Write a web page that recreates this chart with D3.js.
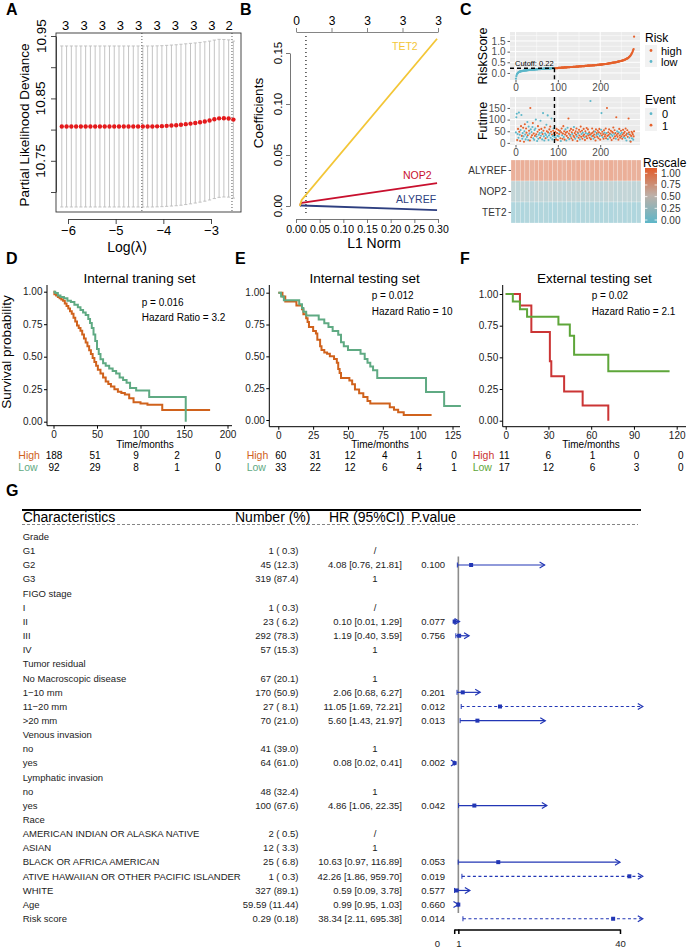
<!DOCTYPE html>
<html><head><meta charset="utf-8"><title>Figure</title>
<script src="https://cdn.jsdelivr.net/npm/d3@7/dist/d3.min.js"></script>
<style>
html,body{margin:0;padding:0;background:#fff;}
svg{display:block;font-family:"Liberation Sans",Arial,Helvetica,sans-serif;}
</style></head><body>
<svg id="fig" width="688" height="949" xmlns="http://www.w3.org/2000/svg"></svg>
<script>
// ===================== DATA =====================
// Panel A: LASSO cross-validation
const lassoLogLambda = [-6.13,-6.03,-5.93,-5.83,-5.73,-5.63,-5.53,-5.43,-5.33,-5.23,-5.13,-5.03,-4.93,-4.83,-4.73,-4.63,-4.53,-4.43,-4.33,-4.23,-4.13,-4.03,-3.93,-3.83,-3.73,-3.63,-3.53,-3.43,-3.33,-3.23,-3.13,-3.03,-2.93,-2.83,-2.73,-2.63,-2.53];
const lassoCvm = [10.805,10.805,10.805,10.805,10.805,10.805,10.805,10.805,10.805,10.805,10.805,10.805,10.805,10.805,10.805,10.805,10.805,10.805,10.805,10.805,10.8052,10.8055,10.806,10.8065,10.807,10.8078,10.8087,10.8096,10.8106,10.8117,10.813,10.8145,10.8165,10.818,10.8182,10.8178,10.816];
const lassoCvsd = [0.129,0.129,0.129,0.129,0.129,0.129,0.129,0.129,0.129,0.129,0.129,0.129,0.129,0.129,0.129,0.129,0.129,0.129,0.129,0.129,0.129,0.129,0.129,0.129,0.129,0.129,0.1288,0.1286,0.1283,0.128,0.1277,0.1273,0.127,0.1266,0.1262,0.126,0.1258];
const lassoTopLambda = [-6.05,-5.66,-5.28,-4.90,-4.52,-4.13,-3.75,-3.36,-2.98,-2.62];
const lassoTopNz = [3,3,3,3,3,3,3,3,3,2];
const lassoYTicks = [10.70,10.75,10.80,10.85,10.90,10.95];
const lassoYLabels = [10.75,10.85,10.95];
const lassoXTicks = [-6,-5,-4,-3];
const lambdaMin = -4.45, lambda1se = -2.56;

// Panel B: coefficient paths
const pathL1 = [0.008,0.012,0.298];
const pathTET2 = [0,0.006,0.164];
const pathNOP2 = [0.001,0.003,0.0225];
const pathALYREF = [0,0.0005,-0.004];
const pathGenes = ["TET2","NOP2","ALYREF"];
const coefXTicks = [0,0.05,0.10,0.15,0.20,0.25,0.30];
const coefYTicks = [0,0.05,0.10,0.15];
const coefTopAt = [0,0.075,0.15,0.225,0.30];
const coefTopNz = [0,3,3,3,3];
const coefSelectedL1 = 0.021;

// Panel C: risk score, survival time, heatmap
const riskLow = [-0.27,-0.15,-0.08,-0.04,-0.01,0.01,0.03,0.04,0.05,0.06,
0.07,0.07,0.08,0.08,0.09,0.09,0.10,0.10,0.10,0.11,
0.11,0.11,0.12,0.12,0.12,0.12,0.13,0.13,0.13,0.13,
0.14,0.14,0.14,0.14,0.14,0.15,0.15,0.15,0.15,0.15,
0.16,0.16,0.16,0.16,0.16,0.16,0.17,0.17,0.17,0.17,
0.17,0.17,0.18,0.18,0.18,0.18,0.18,0.18,0.18,0.19,
0.19,0.19,0.19,0.19,0.19,0.19,0.20,0.20,0.20,0.20,
0.20,0.20,0.20,0.20,0.21,0.21,0.21,0.21,0.21,0.21,
0.21,0.21,0.21,0.22,0.22,0.22,0.22,0.22,0.22,0.22,
0.22,0.22];
const riskHigh = [0.22,0.22,0.23,0.23,0.23,0.23,0.23,0.23,0.24,0.24,
0.24,0.24,0.24,0.24,0.24,0.25,0.25,0.25,0.25,0.25,
0.25,0.25,0.26,0.26,0.26,0.26,0.26,0.26,0.26,0.27,
0.27,0.27,0.27,0.27,0.27,0.27,0.28,0.28,0.28,0.28,
0.28,0.28,0.28,0.29,0.29,0.29,0.29,0.29,0.29,0.29,
0.30,0.30,0.30,0.30,0.30,0.30,0.30,0.31,0.31,0.31,
0.31,0.31,0.31,0.31,0.32,0.32,0.32,0.32,0.32,0.32,
0.32,0.33,0.33,0.33,0.33,0.33,0.33,0.34,0.34,0.34,
0.34,0.34,0.34,0.35,0.35,0.35,0.35,0.35,0.35,0.36,
0.36,0.36,0.36,0.36,0.36,0.37,0.37,0.37,0.37,0.37,
0.38,0.38,0.38,0.38,0.38,0.39,0.39,0.39,0.39,0.39,
0.40,0.40,0.40,0.40,0.41,0.41,0.41,0.41,0.42,0.42,
0.42,0.42,0.43,0.43,0.43,0.44,0.44,0.44,0.45,0.45,
0.45,0.46,0.46,0.46,0.47,0.47,0.47,0.48,0.48,0.48,
0.49,0.49,0.50,0.50,0.50,0.51,0.51,0.52,0.52,0.53,
0.53,0.54,0.54,0.55,0.55,0.56,0.56,0.57,0.57,0.58,
0.58,0.59,0.60,0.60,0.61,0.62,0.63,0.64,0.65,0.66,
0.67,0.68,0.69,0.70,0.72,0.74,0.76,0.78,0.80,0.83,
0.86,0.89,0.93,0.97,1.02,1.08,1.12,1.70];
const futimeLow = [45,110,125,12,38,60,22,130,48,35,
8,55,72,120,30,18,42,65,28,5,
50,80,36,15,62,44,25,90,33,12,
70,52,40,10,150,58,24,47,33,68,
85,20,40,13,55,30,62,100,37,27,
8,48,72,18,35,56,42,22,95,31,
60,45,15,38,128,52,28,10,66,40,
20,34,78,50,25,118,45,12,32,58,
40,70,22,48,105,36,15,30,52,62,
42,25];
const futimeHigh = [35,48,22,15,60,42,30,12,55,28,
38,48,52,20,8,45,62,33,18,40,
72,25,50,14,36,58,44,10,30,48,
65,22,105,40,16,52,34,28,60,20,
46,38,12,55,30,68,24,42,18,50,
35,62,28,8,45,40,22,56,32,15,
48,70,26,38,52,18,44,30,60,36,
24,12,50,42,28,64,20,38,58,32,
40,46,22,35,180,16,40,28,62,44,
30,18,50,36,24,48,10,58,34,42,
26,52,38,20,46,60,30,14,40,56,
128,32,48,24,38,18,54,44,28,36,
62,20,42,150,30,16,46,34,58,26,
40,22,52,36,12,48,30,44,66,20,
38,54,28,42,18,110,34,50,26,40,
14,46,60,32,22,38,52,28,44,18,
36,56,24,42,30,48,20,62,34,10,
40,54,26,38,105,46,22,36,8,5,
30,48,20,42,36,14,28,50];
const eventLow = [0,0,0,1,0,1,0,0,1,0,
1,0,1,0,1,0,0,1,0,1,
0,1,0,0,1,1,0,0,1,0,
0,1,0,1,1,0,1,0,1,0,
1,0,1,0,0,1,0,0,1,0,
0,1,1,0,0,1,0,1,0,0,
1,0,0,1,0,1,0,0,1,0,
1,0,0,1,0,0,1,0,0,1,
0,1,0,1,0,1,0,0,1,0,
1,0];
const eventHigh = [1,1,0,1,1,1,0,1,1,0,
1,0,1,1,0,1,1,0,1,1,
1,0,1,1,1,0,1,0,1,1,
0,1,1,1,0,1,1,0,1,1,
1,0,1,1,1,0,1,1,0,1,
1,1,0,1,1,0,1,1,1,0,
1,1,1,0,1,1,0,1,1,1,
0,1,1,0,1,1,1,0,1,1,
0,1,1,1,0,1,1,0,1,1,
1,0,1,1,1,0,1,1,0,1,
1,1,0,1,1,1,0,1,1,0,
0,1,1,0,1,1,1,0,1,1,
1,1,0,1,1,0,1,1,1,0,
1,1,1,0,1,1,0,1,1,1,
0,1,1,1,0,1,1,0,1,1,
1,0,1,1,1,0,1,1,0,1,
1,1,0,1,1,1,0,1,1,0,
1,1,1,0,1,1,0,1,0,1,
1,1,0,1,1,0,1,1];
const riskCutoff = 0.22;
const riskXTicks = [0,100,200];
const riskYTicks = [0,0.5,1.0,1.5];
const futimeYTicks = [0,50,100,150];
const heatGenes = ["ALYREF","NOP2","TET2"];
const heatALYREF = [0.88,0.86,0.90,0.87,0.85,0.89,0.88,0.86,0.91,0.87,0.88,0.85,0.89,0.87,0.90,0.86,0.88,0.87,0.89,0.85,0.88,0.90,0.86,0.87,0.89,0.88,0.86,0.87];
const heatNOP2 = [0.27,0.25,0.29,0.26,0.24,0.28,0.27,0.25,0.30,0.26,0.27,0.24,0.28,0.26,0.29,0.25,0.27,0.26,0.28,0.24,0.27,0.29,0.25,0.26,0.28,0.27,0.25,0.26];
const heatTET2 = [0.10,0.12,0.09,0.11,0.13,0.10,0.11,0.12,0.09,0.10,0.12,0.11,0.10,0.13,0.09,0.11,0.12,0.10,0.11,0.09,0.12,0.10,0.11,0.13,0.10,0.12,0.09,0.11];
const rescaleTicks = [0,0.25,0.5,0.75,1];

// Panels D-F: Kaplan-Meier
const kmDHighTime = [0,1,3,5,7,9,11,13,15,17,19,21,23,25,27,29,31,33,35,37,39,41,43,45,47,49,51,54,57,60,63,66,70,74,78,82,87,92,100,108,125,180];
const kmDHighSurv = [1.00,0.98,0.97,0.96,0.95,0.94,0.93,0.91,0.89,0.87,0.85,0.83,0.80,0.77,0.74,0.72,0.70,0.67,0.64,0.61,0.58,0.55,0.52,0.49,0.46,0.43,0.40,0.37,0.34,0.31,0.29,0.27,0.25,0.23,0.22,0.21,0.18,0.15,0.14,0.13,0.09,0.09];
const kmDLowTime = [0,2,5,8,12,16,20,24,28,31,34,37,40,42,44,46,48,50,52,54,57,60,64,68,72,76,80,84,88,95,110,152];
const kmDLowSurv = [1.00,0.99,0.97,0.96,0.95,0.93,0.92,0.90,0.88,0.86,0.84,0.82,0.79,0.76,0.72,0.67,0.62,0.56,0.52,0.48,0.45,0.43,0.41,0.39,0.37,0.34,0.32,0.30,0.26,0.24,0.19,0.00];
const kmEHighTime = [0,3,5,13,17,18,20,21,22,25,27,28,30,31,33,35,37,40,42,43,44,45,51,53,55,58,61,64,66,80,83,86,90,110];
const kmEHighSurv = [1.00,0.97,0.93,0.90,0.87,0.83,0.80,0.77,0.73,0.70,0.68,0.63,0.58,0.55,0.53,0.52,0.50,0.48,0.45,0.40,0.37,0.33,0.31,0.28,0.24,0.21,0.18,0.15,0.13,0.10,0.08,0.06,0.04,0.04];
const kmELowTime = [0,2,4,15,17,18,20,29,33,36,39,43,45,47,50,59,62,64,66,68,71,106,119,131];
const kmELowSurv = [1.00,0.97,0.94,0.91,0.88,0.85,0.82,0.79,0.76,0.73,0.70,0.67,0.61,0.58,0.55,0.52,0.48,0.45,0.42,0.39,0.33,0.22,0.11,0.11];
const kmFHighTime = [0,10,18,31,32,41,54,72];
const kmFHighSurv = [1.00,0.91,0.70,0.47,0.35,0.23,0.12,0.00];
const kmFLowTime = [0,5,10,15,37,45,48,72,115];
const kmFLowSurv = [1.00,0.94,0.88,0.82,0.76,0.67,0.52,0.39,0.39];
const kmTitles = ["Internal traning set","Internal testing set","External testing set"];
const kmPText = ["p = 0.016","p = 0.012","p = 0.02"];
const kmHRText = ["Hazard Ratio = 3.2","Hazard Ratio = 10","Hazard Ratio = 2.1"];
const kmDTicks = [0,50,100,150,200];
const kmETicks = [0,25,50,75,100,125];
const kmFTicks = [0,30,60,90,120];
const kmYTicks = [0,0.25,0.5,0.75,1];
const kmDRiskHigh = [188,51,9,2,0];
const kmDRiskLow = [92,29,8,1,0];
const kmERiskHigh = [60,31,12,4,1,0];
const kmERiskLow = [33,22,12,6,4,1];
const kmFRiskHigh = [11,6,1,0,0];
const kmFRiskLow = [17,12,6,3,0];

// Panel G: forest plot
const forestLabels = ["Grade","G1","G2","G3","FIGO stage","I","II","III","IV","Tumor residual","No Macroscopic disease","1\u221210 mm","11\u221220 mm",">20 mm","Venous invasion","no","yes","Lymphatic invasion","no","yes","Race","AMERICAN INDIAN OR ALASKA NATIVE","ASIAN","BLACK OR AFRICA AMERICAN","ATIVE HAWAIIAN OR OTHER PACIFIC ISLANDER","WHITE","Age","Risk score"];
const forestNumber = ["","1 ( 0.3)","45 (12.3)","319 (87.4)","","1 ( 0.3)","23 ( 6.2)","292 (78.3)","57 (15.3)","","67 (20.1)","170 (50.9)","27 ( 8.1)","70 (21.0)","","41 (39.0)","64 (61.0)","","48 (32.4)","100 (67.6)","","2 ( 0.5)","12 ( 3.3)","25 ( 6.8)","1 ( 0.3)","327 (89.1)","59.59 (11.44)","0.29 (0.18)"];
const forestHRText = ["","/","4.08 [0.76, 21.81]","1","","/","0.10 [0.01, 1.29]","1.19 [0.40, 3.59]","1","","1","2.06 [0.68, 6.27]","11.05 [1.69, 72.21]","5.60 [1.43, 21.97]","","1","0.08 [0.02, 0.41]","","1","4.86 [1.06, 22.35]","","/","1","10.63 [0.97, 116.89]","42.26 [1.86, 959.70]","0.59 [0.09, 3.78]","0.99 [0.95, 1.03]","38.34 [2.11, 695.38]"];
const forestP = ["","","0.100","","","","0.077","0.756","","","","0.201","0.012","0.013","","","0.002","","","0.042","","","","0.053","0.019","0.577","0.660","0.014"];
const forestEst = [null,null,4.08,null,null,null,0.10,1.19,null,null,null,2.06,11.05,5.60,null,null,0.08,null,null,4.86,null,null,null,10.63,42.26,0.59,0.99,38.34];
const forestLow = [null,null,0.76,null,null,null,0.01,0.40,null,null,null,0.68,1.69,1.43,null,null,0.02,null,null,1.06,null,null,null,0.97,1.86,0.09,0.95,2.11];
const forestHigh = [null,null,21.81,null,null,null,1.29,3.59,null,null,null,6.27,72.21,21.97,null,null,0.41,null,null,22.35,null,null,null,116.89,959.70,3.78,1.03,695.38];
const forestHeaders = ["Characteristics","Number (%)","HR (95%CI)","P.value"];
const forestTicks = [0,1,40];

// ===================== DRAWING =====================
const svg = d3.select("#fig");
svg.append("rect").attr("width",688).attr("height",949).attr("fill","#fff");

function T(g, x, y, s, o = {}) {
  const t = g.append("text").attr("x", x).attr("y", y).text(s)
    .attr("font-size", o.size || 10).attr("fill", o.fill || "#000")
    .attr("text-anchor", o.anchor || "start");
  if (o.weight) t.attr("font-weight", o.weight);
  if (o.rot != null) t.attr("transform", `rotate(${o.rot},${x},${y})`);
  return t;
}
function L(g, x1, y1, x2, y2, stroke, w, dash) {
  const l = g.append("line").attr("x1",x1).attr("y1",y1).attr("x2",x2).attr("y2",y2)
    .attr("stroke",stroke).attr("stroke-width",w||1);
  if (dash) l.attr("stroke-dasharray",dash);
  return l;
}
function styleAxis(sel, o = {}) {
  sel.attr("font-family", null).attr("font-size", null);
  sel.selectAll("text").attr("font-size", o.size || 10).attr("fill", o.color || "#000");
  sel.selectAll("line").attr("stroke", o.line || "#000").attr("stroke-width", o.width || 1);
  sel.selectAll("path.domain").attr("stroke", o.line || "#000").attr("stroke-width", o.width || 1);
  if (o.noDomain) sel.select("path.domain").remove();
}

// Panel letters
[["A",6,15],["B",240,15],["C",460,15],["D",6,264],["E",235,264],["F",460,264],["G",6,496]]
  .forEach(([s,x,y]) => T(svg, x, y, s, {size:16, weight:"bold"}));

// ---------- Panel A ----------
{
  const g = svg.append("g");
  const xA = d3.scaleLinear().domain([-6,-3]).range([68,211]);
  const yA = d3.scaleLinear().domain([10.70,10.95]).range([192,36]);
  const box = {x0:56, x1:241, y0:33, y1:212};
  lassoLogLambda.forEach((l,i) => {
    const x = xA(l), yu = yA(lassoCvm[i] + lassoCvsd[i]), yl = yA(lassoCvm[i] - lassoCvsd[i]);
    L(g, x, yu, x, yl, "#bdbdbd", 0.9);
    L(g, x-1.6, yu, x+1.6, yu, "#bdbdbd", 0.9);
    L(g, x-1.6, yl, x+1.6, yl, "#bdbdbd", 0.9);
  });
  [lambdaMin, lambda1se].forEach(l => L(g, xA(l), box.y0, xA(l), box.y1, "#444", 0.9, "1,2"));
  g.selectAll("circle.dev").data(lassoLogLambda).join("circle").attr("class","dev")
    .attr("cx", d => xA(d)).attr("cy", (d,i) => yA(lassoCvm[i])).attr("r", 2.2).attr("fill", "#E41A1C");
  g.append("rect").attr("x",box.x0).attr("y",box.y0).attr("width",box.x1-box.x0).attr("height",box.y1-box.y0)
    .attr("fill","none").attr("stroke","#333").attr("stroke-width",0.9);
  const ax = g.append("g").attr("transform","translate(0,219)")
    .call(d3.axisBottom(xA).tickValues(lassoXTicks).tickFormat(d3.format("d")).tickSize(5).tickSizeOuter(0).tickPadding(1.5));
  styleAxis(ax, {size:13, line:"#333", width:0.9});
  const ay = g.append("g").attr("transform",`translate(${box.x0},0)`)
    .call(d3.axisLeft(yA).tickValues(lassoYTicks).tickSize(5).tickSizeOuter(0).tickFormat(""));
  styleAxis(ay, {line:"#333", width:0.9});
  lassoYLabels.forEach(v => T(g, 45.5, yA(v), d3.format(".2f")(v), {size:13.5, anchor:"middle", rot:-90}));
  T(g, 29, 125, "Partial Likelihood Deviance", {size:13.5, anchor:"middle", rot:-90});
  T(g, 127, 251.5, "Log(\u03BB)", {size:14, anchor:"middle"});
  lassoTopLambda.forEach((l,i) => T(g, xA(l), 30, lassoTopNz[i], {size:13, anchor:"middle"}));
}

// ---------- Panel B ----------
{
  const g = svg.append("g");
  const xB = d3.scaleLinear().domain([0,0.30]).range([296,438]);
  const yB = d3.scaleLinear().domain([0,0.15]).range([206,53]);
  L(g, xB(coefSelectedL1), 36, xB(coefSelectedL1), 215, "#222", 1.3, "1,3");
  const cols = {TET2:"#F3C637", NOP2:"#C8102E", ALYREF:"#2E3F80"};
  const series = {TET2:pathTET2, NOP2:pathNOP2, ALYREF:pathALYREF};
  const line = d3.line().x((d,i) => xB(pathL1[i])).y(d => yB(d));
  ["ALYREF","NOP2","TET2"].forEach(gn => {
    g.append("path").attr("d", line(series[gn])).attr("fill","none").attr("stroke",cols[gn]).attr("stroke-width",1.8);
  });
  T(g, 392, 50, "TET2", {size:10.5, fill:cols.TET2});
  T(g, 403, 179, "NOP2", {size:10.5, fill:cols.NOP2});
  T(g, 396, 203, "ALYREF", {size:10.5, fill:cols.ALYREF});
  const ax = g.append("g").attr("transform","translate(0,219)")
    .call(d3.axisBottom(xB).tickValues(coefXTicks).tickFormat(d3.format(".2f")).tickSize(4).tickSizeOuter(0).tickPadding(2.5));
  styleAxis(ax, {size:10.5, line:"#666", width:0.9});
  const ay = g.append("g").attr("transform","translate(290,0)")
    .call(d3.axisLeft(yB).tickValues(coefYTicks).tickFormat("").tickSize(4).tickSizeOuter(0));
  styleAxis(ay, {line:"#666", width:0.9});
  coefYTicks.forEach(v => T(g, 282, yB(v), d3.format(".2f")(v), {size:11.5, anchor:"middle", rot:-90}));
  const at = g.append("g").attr("transform","translate(0,32)")
    .call(d3.axisTop(xB).tickValues(coefTopAt).tickFormat((d,i) => coefTopNz[i]).tickSize(4).tickSizeOuter(0).tickPadding(3));
  styleAxis(at, {size:12, line:"#777", width:0.9});
  T(g, 263, 113, "Coefficients", {size:13.5, anchor:"middle", rot:-90});
  T(g, 374, 248, "L1 Norm", {size:14, anchor:"middle"});
}

// ---------- Panel C ----------
const colHigh = "#E5622D", colLow = "#5DB7C9";
{
  const g = svg.append("g");
  const riskScore = riskLow.concat(riskHigh);
  const futime = futimeLow.concat(futimeHigh);
  const events = eventLow.concat(eventHigh);
  const xC = d3.scaleLinear().domain([-13, 294]).range([510, 640]);
  const yR = d3.scaleLinear().domain([-0.33, 1.92]).range([80, 32]);
  const yF = d3.scaleLinear().domain([-9, 197]).range([145, 97]);

  function ggPanel(x0, x1, y0, y1, ys, yTicks, yFmt, xMinor, yMinor) {
    g.append("rect").attr("x",x0).attr("y",y0).attr("width",x1-x0).attr("height",y1-y0).attr("fill","#EBEBEB");
    xMinor.forEach(v => { const x = xC(v); if (x > x0 && x < x1) L(g, x, y0, x, y1, "#fff", 0.5); });
    yMinor.forEach(v => { const y = ys(v); if (y > y0 && y < y1) L(g, x0, y, x1, y, "#fff", 0.5); });
    riskXTicks.forEach(v => L(g, xC(v), y0, xC(v), y1, "#fff", 1));
    yTicks.forEach(v => L(g, x0, ys(v), x1, ys(v), "#fff", 1));
    const axb = g.append("g").attr("transform",`translate(0,${y1})`)
      .call(d3.axisBottom(xC).tickValues(riskXTicks).tickSize(2.5).tickPadding(1.5).tickSizeOuter(0));
    styleAxis(axb, {size:10, color:"#4D4D4D", line:"#333", width:0.8, noDomain:true});
    const axl = g.append("g").attr("transform",`translate(${x0},0)`)
      .call(d3.axisLeft(ys).tickValues(yTicks).tickFormat(yFmt).tickSize(2.5).tickPadding(2).tickSizeOuter(0));
    styleAxis(axl, {size:10, color:"#4D4D4D", line:"#333", width:0.8, noDomain:true});
  }
  // Risk score panel
  ggPanel(510, 640, 32, 80, yR, riskYTicks, d3.format(".1f"), [50,150,250], [0.25,0.75,1.25,1.75]);
  g.selectAll("circle.rs").data(riskScore).join("circle").attr("class","rs")
    .attr("cx",(d,i) => xC(i+1)).attr("cy", d => yR(d)).attr("r",1.1)
    .attr("fill",(d,i) => i < riskLow.length ? colLow : colHigh);
  const xCut = xC(riskLow.length);
  L(g, 510, yR(riskCutoff), xCut, yR(riskCutoff), "#000", 1.4, "4,3");
  L(g, xCut, yR(riskCutoff), xCut, 80, "#000", 1.4, "4,3");
  T(g, 515, 65.5, "Cutoff: " + riskCutoff, {size:7.5});
  T(g, 486.5, 56, "RiskScore", {size:12.5, anchor:"middle", rot:-90});
  // legend Risk
  T(g, 645, 42, "Risk", {size:12});
  [["high",colHigh],["low",colLow]].forEach(([s,c],i) => {
    g.append("rect").attr("x",645).attr("y",45+i*11).attr("width",12).attr("height",11).attr("fill","#F2F2F2");
    g.append("circle").attr("cx",651).attr("cy",50.5+i*11).attr("r",1.4).attr("fill",c);
    T(g, 661, 54.5+i*11, s, {size:11});
  });

  // Futime panel
  ggPanel(510, 640, 97, 145, yF, futimeYTicks, d3.format("d"), [50,150,250], [25,75,125,175]);
  g.selectAll("circle.ft").data(futime).join("circle").attr("class","ft")
    .attr("cx",(d,i) => xC(i+1)).attr("cy", d => yF(d)).attr("r",1.05)
    .attr("fill",(d,i) => events[i] === 1 ? colHigh : colLow);
  L(g, xCut, 97, xCut, 145, "#000", 1.4, "4,3");
  T(g, 486.5, 121, "Futime", {size:12.5, anchor:"middle", rot:-90});
  T(g, 645, 104, "Event", {size:12});
  [["0",colLow],["1",colHigh]].forEach(([s,c],i) => {
    g.append("rect").attr("x",645).attr("y",108+i*11.5).attr("width",12).attr("height",11.5).attr("fill","#F2F2F2");
    g.append("circle").attr("cx",651).attr("cy",113.7+i*11.5).attr("r",1.4).attr("fill",c);
    T(g, 662, 118+i*11.5, s, {size:11});
  });

  // Heatmap
  const heatColor = d3.scaleLinear().domain([0,0.5,1]).range(["#5DB6C8","#BDB0A8","#E35B28"]);
  const heatRows = [heatALYREF, heatNOP2, heatTET2];
  const xH = d3.scaleBand().domain(d3.range(heatALYREF.length)).range([511, 641]);
  const yH = d3.scaleBand().domain(heatGenes).range([160, 223]);
  heatGenes.forEach((gn, r) => {
    g.selectAll(null).data(heatRows[r]).join("rect")
      .attr("x",(d,i) => xH(i)).attr("y", yH(gn)).attr("width", xH.bandwidth()).attr("height", yH.bandwidth())
      .attr("fill", d => heatColor(d)).attr("fill-opacity",0.55).attr("stroke","#fff").attr("stroke-width",0.25);
  });
  const ayH = g.append("g").attr("transform","translate(511,0)")
    .call(d3.axisLeft(yH).tickSize(2.5).tickPadding(2).tickSizeOuter(0));
  styleAxis(ayH, {size:10, color:"#333", line:"#333", width:0.8, noDomain:true});
  // colorbar
  const grad = svg.append("defs").append("linearGradient").attr("id","rescaleGrad")
    .attr("x1",0).attr("y1",1).attr("x2",0).attr("y2",0);
  d3.range(0,1.0001,0.1).forEach(v => grad.append("stop").attr("offset",v).attr("stop-color",heatColor(v)));
  T(g, 643, 166.5, "Rescale", {size:12});
  const yBar = d3.scaleLinear().domain([0,1]).range([220,173.3]);
  g.append("rect").attr("x",645).attr("y",168).attr("width",12).attr("height",55).attr("fill","url(#rescaleGrad)");
  rescaleTicks.forEach(v => {
    L(g, 645, yBar(v), 647.4, yBar(v), "#fff", 0.8);
    L(g, 654.6, yBar(v), 657, yBar(v), "#fff", 0.8);
    T(g, 661, yBar(v)+3.5, d3.format(".2f")(v), {size:10, fill:"#333"});
  });
}

// ---------- Panels D, E, F ----------
function kmPanel(o) {
  const g = svg.append("g");
  const ys = d3.scaleLinear().domain([0,1]).range([o.y0, o.y1]);
  const xs = d3.scaleLinear().domain([0, o.tmax]).range([o.xt0, o.xt1]);
  const line = d3.line().curve(d3.curveStepAfter).x(d => xs(d[0])).y(d => ys(d[1]));
  o.curves.forEach(c => {
    const pts = c.t.map((t,i) => [t, c.s[i]]);
    g.append("path").attr("d", line(pts)).attr("fill","none").attr("stroke",c.color).attr("stroke-width",2);
  });
  L(g, o.ax, o.top, o.ax, o.axisY, "#000", 1);
  L(g, o.ax, o.axisY, o.right, o.axisY, "#000", 1);
  const axb = g.append("g").attr("transform",`translate(0,${o.axisY})`)
    .call(d3.axisBottom(xs).tickValues(o.ticks).tickSize(3).tickPadding(2).tickSizeOuter(0));
  styleAxis(axb, {size:10, color:"#1a1a1a", line:"#000", width:1, noDomain:true});
  const axl = g.append("g").attr("transform",`translate(${o.ax},0)`)
    .call(d3.axisLeft(ys).tickValues(kmYTicks).tickFormat(d3.format(".2f")).tickSize(3).tickPadding(1.5).tickSizeOuter(0));
  styleAxis(axl, {size:10, color:"#1a1a1a", line:"#000", width:1, noDomain:true});
  T(g, (o.ax + o.right)/2, 283, o.title, {size:13.5, anchor:"middle"});
  T(g, o.pX, o.pY, o.p, {size:10});
  T(g, o.pX, o.pY + 15.5, o.hr, {size:10});
  T(g, o.tlX, 448, "Time/months", {size:10, anchor:"middle"});
  const xr = d3.scaleLinear().domain([0, o.tmax]).range(o.tableRange);
  T(g, o.lblX, 458.5, "High", {size:10.5, fill:o.curves[0].color});
  T(g, o.lblX, 470.5, "Low", {size:10.5, fill:o.curves[1].color});
  o.ticks.forEach((t,i) => {
    T(g, xr(t), 458.5, o.riskHigh[i], {size:10, anchor:"middle"});
    T(g, xr(t), 470.5, o.riskLow[i], {size:10, anchor:"middle"});
  });
  return g;
}
const kmOrange = "#D0621C", kmGreen = "#5FAA83";
const gD = kmPanel({ax:47, top:285, axisY:425.7, right:232, y0:421.7, y1:291.7, tmax:200, xt0:53.5, xt1:227.5,
  ticks:kmDTicks, title:kmTitles[0], p:kmPText[0], hr:kmHRText[0], pX:141.7, pY:305.5, tlX:145,
  tableRange:[54,218], lblX:18.3, riskHigh:kmDRiskHigh, riskLow:kmDRiskLow,
  curves:[{t:kmDHighTime, s:kmDHighSurv, color:kmOrange},{t:kmDLowTime, s:kmDLowSurv, color:kmGreen}]});
T(gD, 10.5, 352, "Survival probability", {size:13.5, anchor:"middle", rot:-90});
kmPanel({ax:269.3, top:285, axisY:426.7, right:460, y0:420, y1:292.7, tmax:125, xt0:278.3, xt1:452.5,
  ticks:kmETicks, title:kmTitles[1], p:kmPText[1], hr:kmHRText[1], pX:371.7, pY:299, tlX:380,
  tableRange:[280.7,454], lblX:246.7, riskHigh:kmERiskHigh, riskLow:kmERiskLow,
  curves:[{t:kmEHighTime, s:kmEHighSurv, color:kmOrange},{t:kmELowTime, s:kmELowSurv, color:kmGreen}]});
kmPanel({ax:502.7, top:285, axisY:426.7, right:686, y0:420.7, y1:294, tmax:120, xt0:505.7, xt1:676.7,
  ticks:kmFTicks, title:kmTitles[2], p:kmPText[2], hr:kmHRText[2], pX:591.7, pY:299, tlX:591,
  tableRange:[504.3,680.7], lblX:472.7, riskHigh:kmFRiskHigh, riskLow:kmFRiskLow,
  curves:[{t:kmFHighTime, s:kmFHighSurv, color:"#CB3535"},{t:kmFLowTime, s:kmFLowSurv, color:"#5EA63A"}]});

// ---------- Panel G ----------
{
  const g = svg.append("g");
  const rowY = d3.scaleLinear().domain([0,1]).range([536.7, 550.85]);
  const xF = d3.scaleLinear().domain([0,40]).range([454.2, 620]);
  const xClip = xF(45.5);
  const blue = "#2236B5";
  L(g, 22, 510, 641, 510, "#000", 2);
  const hx = [22.7, 235, 329, 411];
  forestHeaders.forEach((h,i) => T(g, hx[i], 521.5, h, {size:14}));
  L(g, 22, 524.5, 638, 524.5, "#777", 0.9, "3,2");
  forestLabels.forEach((s,i) => {
    const y = rowY(i) + 3.3;
    T(g, 22.7, y, s, {size:9.5, fill:"#222"});
    if (forestNumber[i]) T(g, 298.5, y, forestNumber[i], {size:9.5, fill:"#222", anchor:"end"});
    const h = forestHRText[i];
    if (h) {
      if (h === "/" || h === "1") T(g, 375, y, h, {size:9.5, fill:"#222", anchor:"middle"});
      else T(g, 402, y, h, {size:9.5, fill:"#222", anchor:"end"});
    }
    if (forestP[i]) T(g, 445, y, forestP[i], {size:9.5, fill:"#222", anchor:"end"});
  });
  L(g, xF(1), 556.5, xF(1), 913, "#8c8c8c", 1.6);
  forestEst.forEach((e,i) => {
    if (e == null) return;
    const y = rowY(i), lo = forestLow[i], hi = forestHigh[i], p = +forestP[i];
    const over = hi > 40;
    const dashed = over && p < 0.05;
    const xe = over ? (dashed ? xClip : xF(40)) : xF(hi);
    const xl = xF(lo);
    L(g, xl, y, xe, y, blue, 1.2, dashed ? "3,2.5" : null);
    L(g, xl, y-2.5, xl, y+2.5, blue, 1);
    g.append("path").attr("d", `M${xe-5},${y-3}L${xe},${y}L${xe-5},${y+3}`)
      .attr("fill","none").attr("stroke",blue).attr("stroke-width",1.2);
    g.append("rect").attr("x", xF(e)-2).attr("y", y-2).attr("width",4).attr("height",4).attr("fill",blue);
  });
  const ax = g.append("g").attr("transform","translate(0,929.5)")
    .call(d3.axisBottom(xF).tickValues(forestTicks).tickSize(4.5).tickPadding(6).tickSizeOuter(0));
  styleAxis(ax, {size:9.5, color:"#222", line:"#000", width:1.5});
  ax.selectAll(".tick").filter(d => d === 0).select("text").attr("x", 437 - xF(0));
}
</script>
</body></html>
